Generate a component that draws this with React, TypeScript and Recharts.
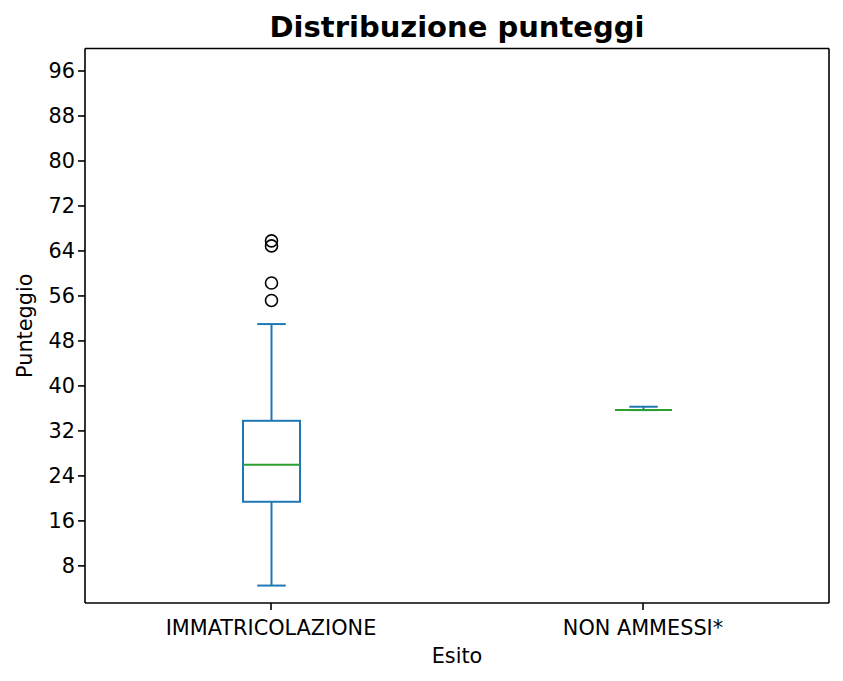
import { ComposedChart, Bar, Line, XAxis, YAxis } from 'recharts'

// box plot stats
const categories = ['IMMATRICOLAZIONE', 'NON AMMESSI*']
const whiskerLow = [4.5, 35.7]
const q1 = [19.4, 35.7]
const median = [26.0, 35.7]
const q3 = [33.8, 35.7]
const whiskerHigh = [51.0, 36.3]
const outliers = [[65.8, 64.9, 58.3, 55.2], []]

const yTicks = [8, 16, 24, 32, 40, 48, 56, 64, 72, 80, 88, 96]
const yDomain = [1.4, 100]

const BLUE = '#1f77b4'
const GREEN = '#2ca02c'
const FONT = "'DejaVu Sans', sans-serif"

const data = categories.map((name, i) => ({
    name,
    range: [whiskerLow[i], whiskerHigh[i]],
    low: whiskerLow[i],
    q1: q1[i],
    median: median[i],
    q3: q3[i],
    high: whiskerHigh[i],
    outliers: outliers[i],
}))

const BoxShape = (props: any) => {
    const { x, y, width, height, payload } = props
    const { low, high } = payload
    // map a value to pixels from the bar's own scaled geometry
    const py = (v: number) => y + (height * (high - v)) / (high - low)
    const cx = x + width / 2
    const capHalf = width / 4
    return (
        <g>
            <line x1={cx} x2={cx} y1={py(high)} y2={py(payload.q3)} stroke={BLUE} strokeWidth={2} />
            <line x1={cx} x2={cx} y1={py(payload.q1)} y2={py(low)} stroke={BLUE} strokeWidth={2} />
            <line x1={cx - capHalf} x2={cx + capHalf} y1={py(high)} y2={py(high)} stroke={BLUE} strokeWidth={2} />
            <line x1={cx - capHalf} x2={cx + capHalf} y1={py(low)} y2={py(low)} stroke={BLUE} strokeWidth={2} />
            <rect
                x={x}
                y={py(payload.q3)}
                width={width}
                height={Math.max(py(payload.q1) - py(payload.q3), 0)}
                fill="none"
                stroke={BLUE}
                strokeWidth={2}
            />
            <line x1={x} x2={x + width} y1={py(payload.median)} y2={py(payload.median)} stroke={GREEN} strokeWidth={2} />
            {payload.outliers.map((v: number, i: number) => (
                <circle key={i} cx={cx} cy={py(v)} r={6} fill="none" stroke="#000" strokeWidth={1.6} />
            ))}
        </g>
    )
}

const YLabel = (props: any) => {
    const { viewBox } = props
    const cx = viewBox.x + 25
    const cy = viewBox.y + viewBox.height / 2
    return (
        <text
            x={cx}
            y={cy}
            transform={`rotate(-90 ${cx} ${cy})`}
            textAnchor="middle"
            dominantBaseline="central"
            fontSize={20.8}
            fontFamily={FONT}
            fill="#000"
        >
            Punteggio
        </text>
    )
}

const XLabel = (props: any) => {
    const { viewBox } = props
    return (
        <text
            x={viewBox.x + viewBox.width / 2}
            y={viewBox.y + 60}
            textAnchor="middle"
            fontSize={20.8}
            fontFamily={FONT}
            fill="#000"
        >
            Esito
        </text>
    )
}

export default function App() {
    return (
        <div style={{ position: 'absolute', left: 0, top: 0, width: 843, height: 681, background: '#fff' }}>
            <div
                style={{
                    position: 'absolute',
                    left: 85,
                    width: 744,
                    top: 12.5,
                    textAlign: 'center',
                    fontFamily: FONT,
                    fontWeight: 'bold',
                    fontSize: 29,
                    lineHeight: '29px',
                    color: '#000',
                }}
            >
                Distribuzione punteggi
            </div>
            <ComposedChart
                width={843}
                height={681}
                data={data}
                margin={{ top: 46.5, right: 12, bottom: 8, left: 0 }}
            >
                <XAxis
                    dataKey="name"
                    height={70}
                    tickSize={7}
                    tickMargin={10}
                    axisLine={{ stroke: '#000', strokeWidth: 1.6 }}
                    tickLine={{ stroke: '#000', strokeWidth: 1.6 }}
                    tick={{ fontSize: 20.8, fontFamily: FONT, fill: '#000' }}
                    interval={0}
                    label={<XLabel />}
                />
                {/* top and right axes only close the frame */}
                <XAxis
                    xAxisId="top"
                    orientation="top"
                    dataKey="name"
                    height={2}
                    tick={false}
                    tickLine={false}
                    axisLine={{ stroke: '#000', strokeWidth: 1.6 }}
                />
                <YAxis
                    type="number"
                    domain={yDomain}
                    ticks={yTicks}
                    width={85}
                    tickSize={7}
                    tickMargin={3}
                    axisLine={{ stroke: '#000', strokeWidth: 1.6 }}
                    tickLine={{ stroke: '#000', strokeWidth: 1.6 }}
                    tick={{ fontSize: 20.8, fontFamily: FONT, fill: '#000' }}
                    allowDataOverflow
                    label={<YLabel />}
                />
                <YAxis
                    yAxisId="right"
                    orientation="right"
                    type="number"
                    domain={yDomain}
                    width={2}
                    tick={false}
                    tickLine={false}
                    axisLine={{ stroke: '#000', strokeWidth: 1.6 }}
                />
                <Bar dataKey="range" barSize={57} shape={<BoxShape />} isAnimationActive={false} />
                <Line
                    xAxisId="top"
                    yAxisId="right"
                    dataKey="median"
                    stroke="none"
                    dot={false}
                    activeDot={false}
                    legendType="none"
                    isAnimationActive={false}
                />
            </ComposedChart>
        </div>
    )
}
